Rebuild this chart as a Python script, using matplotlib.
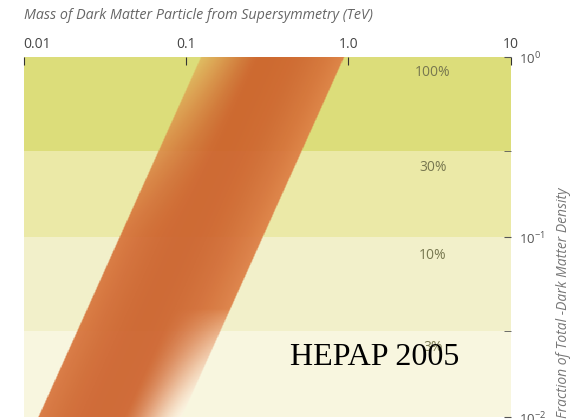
import numpy as np
import matplotlib.pyplot as plt
from matplotlib.ticker import NullLocator

plt.rcParams['font.family'] = ['Open Sans', 'DejaVu Sans']

"----------------------------------- Data -----------------------------------"

band_edges = [1.0, 0.3, 0.1, 0.03, 0.01]   # fraction of total dark matter density
band_labels = ['100%', '30%', '10%', '3%']
band_label_y = [0.82, 0.245, 0.079, 0.0245]
band_label_x = 3.3
band_colors = ['#dcdd7a', '#ebe9a7', '#f2f0ca', '#f8f6df']

# allowed mass range (TeV) at fraction = 1, scales as fraction ** power
mass_low_at_1 = 0.122
mass_high_at_1 = 0.95
mass_power = 0.5

x_ticks = [0.01, 0.1, 1.0, 10]
x_tick_labels = ['0.01', '0.1', '1.0', '10']
y_ticks = [1, 0.1, 0.01]
y_minor_ticks = [0.3, 0.03]

"---------------------------------- Figure ----------------------------------"

fig = plt.figure(figsize=(5.76, 4.2), dpi=100)
ax = fig.add_axes([0.041, 0.007, 0.846, 0.857])
ax.set_xscale('log')
ax.set_yscale('log')
ax.set_xlim(0.01, 10)
ax.set_ylim(0.01, 1)

for top, bot, c in zip(band_edges[:-1], band_edges[1:], band_colors):
    ax.axhspan(bot, top, color=c, lw=0, zorder=0)

# shaded mass band, built on a fine grid in log space
nx, ny = 900, 600
lx = np.linspace(-2, 1, nx + 1)
ly = np.linspace(-2, 0, ny + 1)
LX, LY = np.meshgrid((lx[:-1] + lx[1:]) / 2, (ly[:-1] + ly[1:]) / 2)
left = np.log10(mass_low_at_1) + mass_power * LY
right = np.log10(mass_high_at_1) + mass_power * LY
u = (LX - left) / (right - left)
v = (LY + 2) / 2

dark = np.array([0.80, 0.38, 0.17])
light = np.array([0.87, 0.50, 0.27])
yellow = np.array([0.88, 0.74, 0.38])
white = np.array([1.0, 0.97, 0.92])

f = np.clip(np.abs(u - 0.45) / 0.55, 0, 1) ** 2
rgb = dark * (1 - f[..., None]) + light * f[..., None]
t = np.clip((0.4 - u) / 0.4, 0, 1) ** 1.2 * np.clip((v - 0.5) / 0.5, 0, 1) ** 1.3
rgb = rgb * (1 - t[..., None]) + yellow * t[..., None]
w = (np.clip((u - 0.6) / 0.4, 0, 1) ** 1.2
     * np.clip((0.3 - v) / 0.3, 0, 1) ** 0.7)
rgb = rgb * (1 - w[..., None]) + white * w[..., None]

edge = 0.012
a_edge = np.clip(u / edge, 0, 1) * np.clip((1 - u) / edge, 0, 1)
alpha = 0.93 * a_edge * (1 - 0.6 * w ** 2)

C = np.dstack([rgb, alpha])
ax.pcolormesh(10 ** lx, 10 ** ly, C, shading='flat', antialiased=False,
              rasterized=True, zorder=1)

for lab, yy in zip(band_labels, band_label_y):
    ax.text(band_label_x, yy, lab, ha='center', va='center', fontsize=10,
            color='#77774f', zorder=2)

ax.text(0.437, 0.0194, 'HEPAP 2005', family='Liberation Serif', fontsize=23,
        color='black', va='baseline', ha='left', zorder=3)

# axes
ax.xaxis.tick_top()
ax.set_xticks(x_ticks, x_tick_labels)
ax.xaxis.set_minor_locator(NullLocator())
ax.tick_params(axis='x', direction='in', length=6, color='#333333',
               labelsize=10, labelcolor='#444444', pad=4)
ax.get_xticklabels()[0].set_ha('left')

ax.yaxis.tick_right()
ax.set_yticks(y_ticks)
ax.set_yticks(y_minor_ticks, minor=True)
ax.yaxis.set_minor_formatter(plt.NullFormatter())
ax.tick_params(axis='y', which='both', direction='in', length=5,
               color='#555555', labelsize=9.5, labelcolor='#555555', pad=6)

for s in ax.spines.values():
    s.set_visible(False)

fig.text(0.042, 0.962, 'Mass of Dark Matter Particle from Supersymmetry (TeV)',
         style='italic', fontsize=10.3, color='#666666', ha='left', va='center')
fig.text(0.978, 0.004, 'Fraction of Total -Dark Matter Density', rotation=90,
         style='italic', fontsize=10, color='#777777', ha='center', va='bottom')

fig.savefig('out.png', dpi=100)
